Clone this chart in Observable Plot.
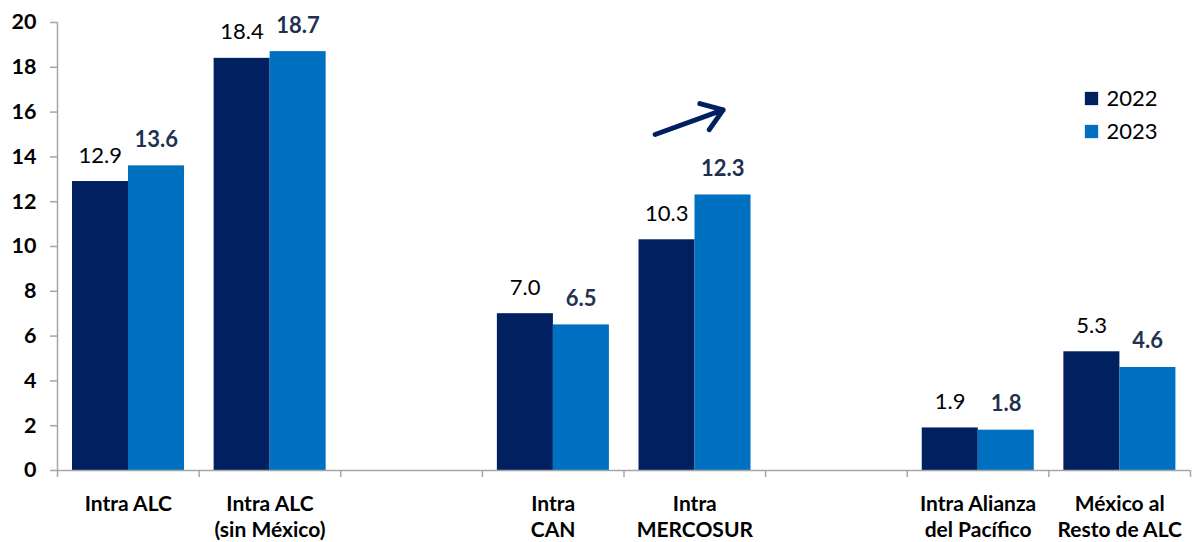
<!DOCTYPE html>
<html>
<head>
<meta charset="utf-8">
<script src="https://cdn.jsdelivr.net/npm/d3@7"></script>
<script src="https://cdn.jsdelivr.net/npm/@observablehq/plot@0.6"></script>
<style>
  html, body { margin: 0; padding: 0; background: #fff; }
  #chart svg { display: block; }
</style>
</head>
<body>
<div id="chart"></div>
<script>
// ---- data ----
const categories = ["Intra ALC", "Intra ALC\n(sin México)", "", "Intra\nCAN", "Intra\nMERCOSUR", "", "Intra Alianza\ndel Pacífico", "México al\nResto de ALC"];
const values2022 = [12.9, 18.4, null, 7.0, 10.3, null, 1.9, 5.3];
const values2023 = [13.6, 18.7, null, 6.5, 12.3, null, 1.8, 4.6];
const seriesNames = ["2022", "2023"];
const seriesColors = ["#002060", "#0070c0"];
const yTicks = [0, 2, 4, 6, 8, 10, 12, 14, 16, 18, 20];
// trend arrow annotation (data units: slot index, value)
const trendArrow = [{x1: 4.22, y1: 15.0, x2: 4.70, y2: 16.1}];

const rows = [];
categories.forEach((c, i) => {
  if (values2022[i] != null) rows.push({i, cat: c, year: "2022", value: values2022[i]});
  if (values2023[i] != null) rows.push({i, cat: c, year: "2023", value: values2023[i]});
});
const r22 = rows.filter(d => d.year === "2022");
const r23 = rows.filter(d => d.year === "2023");
const axisGray = "#a6a6a6";
const font = "Lato, 'Open Sans', sans-serif";

const chart = Plot.plot({
  width: 1193,
  height: 542,
  marginLeft: 57,
  marginRight: 3,
  marginTop: 22,
  marginBottom: 72,
  style: {fontFamily: font, overflow: "visible", background: "#fff"},
  x: {type: "linear", domain: [0, categories.length], axis: null},
  y: {domain: [0, 20], axis: null},
  marks: [
    // bars
    Plot.rectY(r22, {x1: d => d.i, x2: d => d.i + 1, y: "value", fill: seriesColors[0], insetLeft: 15, insetRight: 70.6}),
    Plot.rectY(r23, {x1: d => d.i, x2: d => d.i + 1, y: "value", fill: seriesColors[1], insetLeft: 71, insetRight: 14.6}),
    // value labels
    Plot.text(r22, {x: d => d.i + 0.5, y: "value", text: d => d.value.toFixed(1), dx: -28, dy: -19, lineAnchor: "bottom", fontSize: 22, fill: "#000"}),
    Plot.text(r23, {x: d => d.i + 0.5, y: "value", text: d => d.value.toFixed(1), dx: 28, dy: -19, lineAnchor: "bottom", fontSize: 22, fontWeight: "bold", fill: "#1f3150"}),
    // axes lines
    Plot.ruleX([0], {y1: 0, y2: 20, stroke: axisGray, strokeWidth: 1.5}),
    Plot.ruleY([0], {x1: 0, x2: categories.length, stroke: axisGray, strokeWidth: 1.5}),
    Plot.axisY({ticks: yTicks, tickSize: 7, tickPadding: 14, fontSize: 21.5, fontWeight: "bold", stroke: axisGray, strokeWidth: 1.5, color: "#000", label: null}),
    // boundary ticks on x axis
    Plot.axisX({ticks: d3.range(0, categories.length + 1), tickSize: 7, tickFormat: () => "", stroke: axisGray, strokeWidth: 1.5, label: null}),
    // category labels
    Plot.axisX({ticks: d3.range(0, categories.length).filter(i => categories[i] !== "").map(i => i + 0.5), tickSize: 0, tickPadding: 22, tickFormat: v => categories[Math.floor(v)], fontSize: 21, fontWeight: "bold", lineHeight: 1.24, color: "#000", label: null}),
    // trend arrow
    Plot.arrow(trendArrow, {x1: "x1", y1: "y1", x2: "x2", y2: "y2", stroke: "#002060", strokeWidth: 5, headLength: 22, headAngle: 70}),
    // legend
    ...seriesNames.map((s, k) => Plot.dot([s], {frameAnchor: "top-right", dx: -99, dy: 76 + 33 * k, symbol: "square", r: 7.5, fill: seriesColors[k]})),
    ...seriesNames.map((s, k) => Plot.text([s], {frameAnchor: "top-right", dx: -84, dy: 76 + 33 * k, text: d => d, textAnchor: "start", lineAnchor: "middle", fontSize: 22, fill: "#000"}))
  ]
});
document.getElementById("chart").appendChild(chart);
</script>
</body>
</html>
